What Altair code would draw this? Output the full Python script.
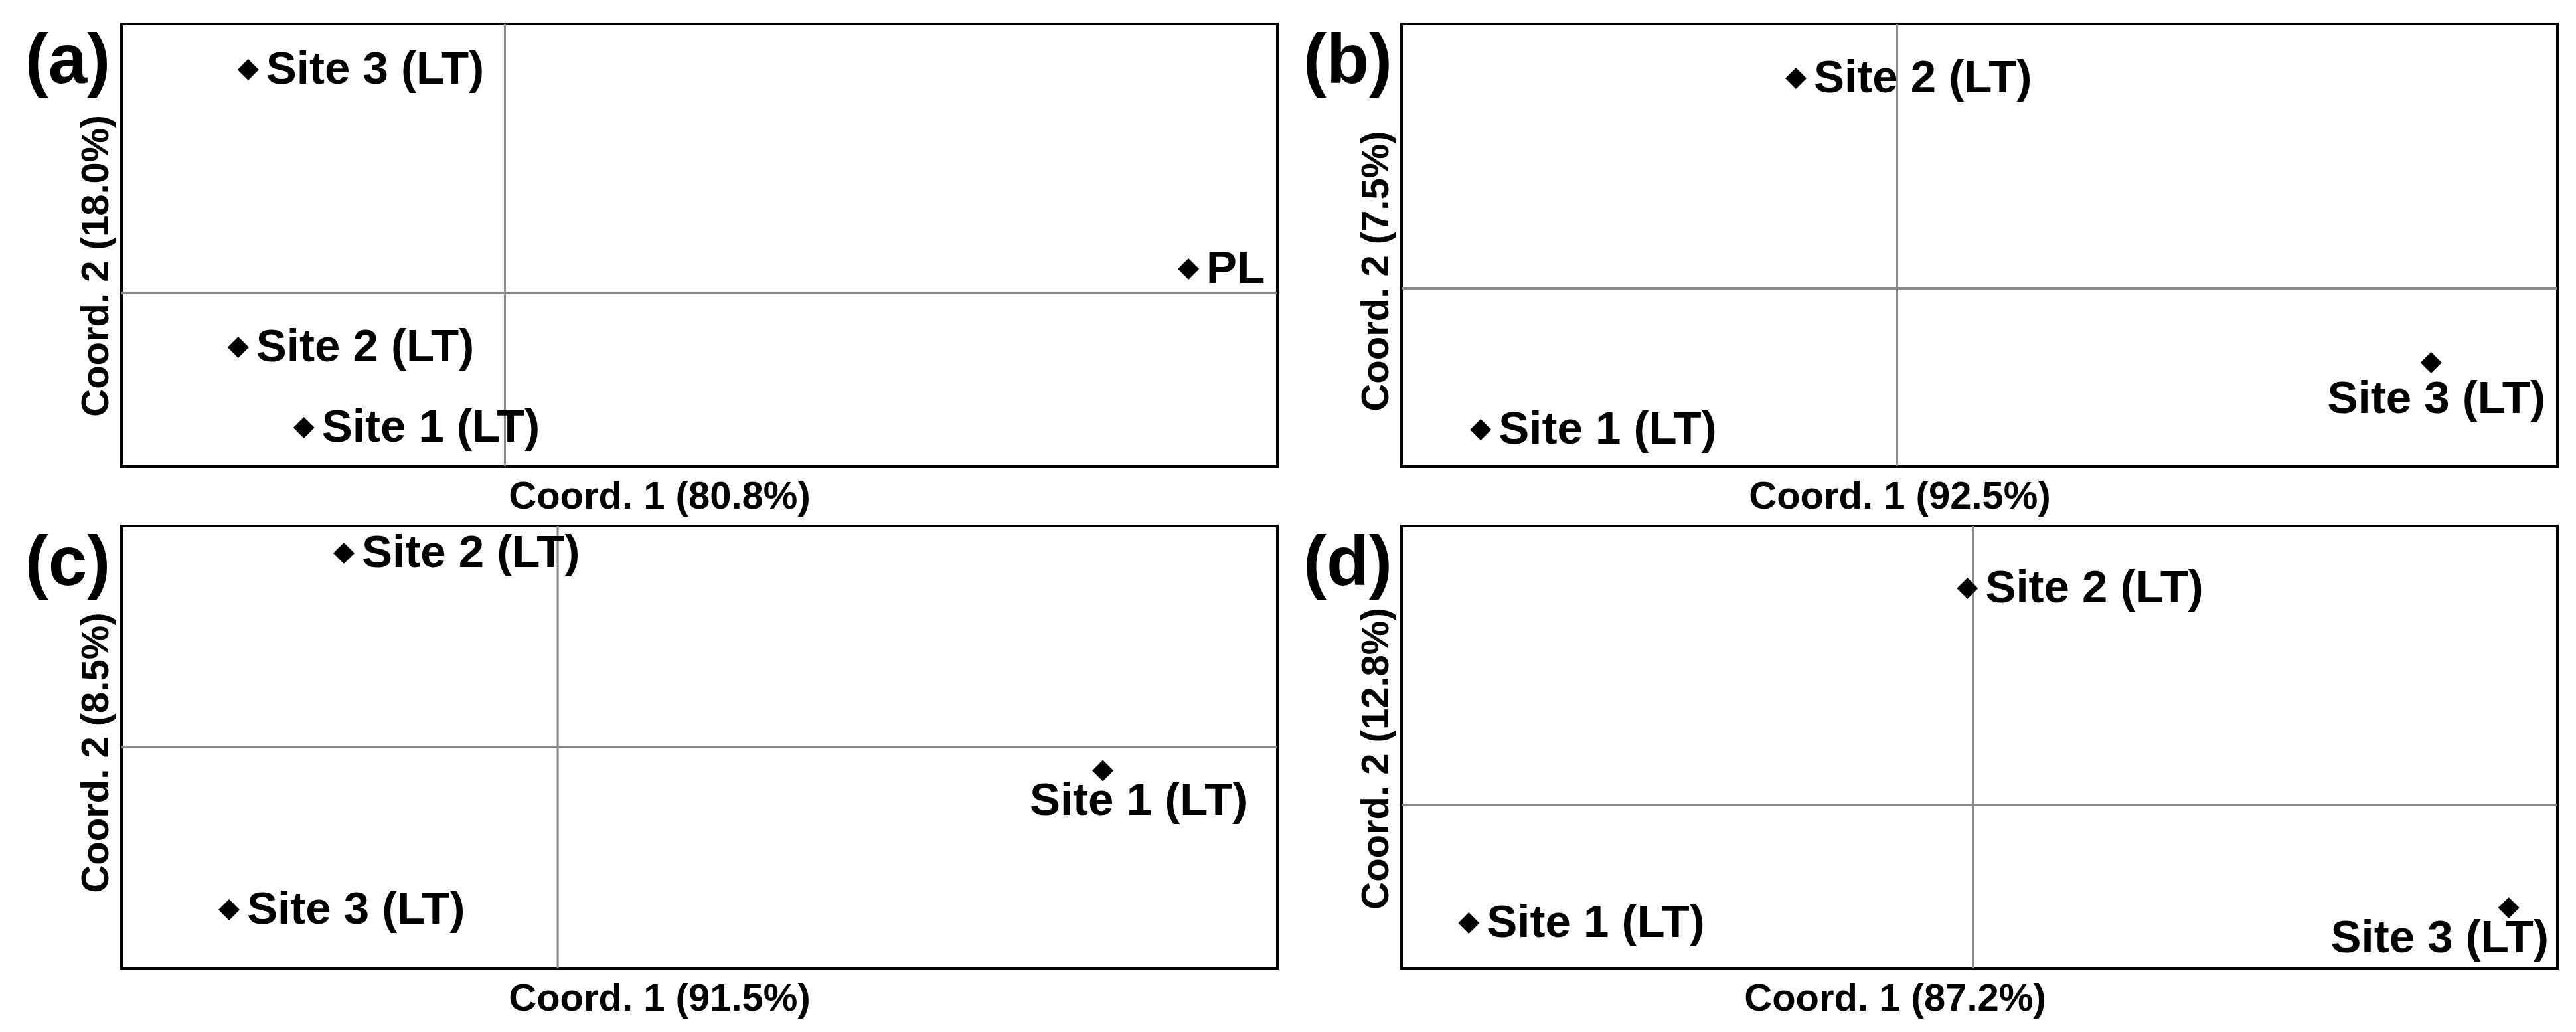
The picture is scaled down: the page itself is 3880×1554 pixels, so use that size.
import altair as alt
import pandas as pd

FONT = "Liberation Sans, Arial, sans-serif"

PANEL_LETTERS = ["(a)", "(b)", "(c)", "(d)"]
X_TITLES = ["Coord. 1 (80.8%)", "Coord. 1 (92.5%)", "Coord. 1 (91.5%)", "Coord. 1 (87.2%)"]
Y_TITLES = ["Coord. 2 (18.0%)", "Coord. 2 (7.5%)", "Coord. 2 (8.5%)", "Coord. 2 (12.8%)"]

# panel (a)
A_SITES = ["Site 3 (LT)", "PL", "Site 2 (LT)", "Site 1 (LT)"]
A_X = [-0.2220, 0.5915, -0.2306, -0.1738]
A_Y = [0.5045, 0.0541, -0.1231, -0.3048]
A_PLACE = ["right", "right", "right", "right"]

# panel (b)
B_SITES = ["Site 1 (LT)", "Site 2 (LT)", "Site 3 (LT)"]
B_X = [-0.3602, -0.0875, 0.4620]
B_Y = [-0.3198, 0.4745, -0.1682]
B_PLACE = ["right", "right", "below"]

# panel (c)
C_SITES = ["Site 1 (LT)", "Site 2 (LT)", "Site 3 (LT)"]
C_X = [0.4716, -0.1850, -0.2843]
C_Y = [-0.0525, 0.4393, -0.3673]
C_PLACE = ["below", "right", "right"]

# panel (d)
D_SITES = ["Site 1 (LT)", "Site 2 (LT)", "Site 3 (LT)"]
D_X = [-0.4360, -0.0046, 0.4637]
D_Y = [-0.2673, 0.4895, -0.2327]
D_PLACE = ["right", "right", "below"]

X_DOMAINS = [[-0.3316, 0.6684], [-0.4287, 0.5713], [-0.3774, 0.6226], [-0.4942, 0.5058]]
Y_DOMAINS = [[-0.3919, 0.6081], [-0.4024, 0.5976], [-0.4993, 0.5007], [-0.3694, 0.6306]]

# styling (label placement offsets / axis title positions)
BELOW_OFFSETS = [(0, 50), (8, 55), (54, 46), (-104, 46)]
X_TITLE_X = [810, 750, 810, 743]
Y_TITLE_Y = [364, 372, 341, 350]

W, H = 1741, 666


def panel(i, sites, xs, ys, place):
    df = pd.DataFrame({"site": sites, "x": xs, "y": ys, "place": place})
    xsc = alt.Scale(domain=X_DOMAINS[i], nice=False, zero=False)
    ysc = alt.Scale(domain=Y_DOMAINS[i], nice=False, zero=False)
    xax = alt.Axis(title=X_TITLES[i], domain=False, ticks=False, labels=False, grid=False,
                   titleFont=FONT, titleFontSize=58, titleFontWeight="bold", titleColor="black",
                   titleX=X_TITLE_X[i], titleY=63, titleBaseline="alphabetic", titleAlign="center")
    yax = alt.Axis(title=Y_TITLES[i], domain=False, ticks=False, labels=False, grid=False,
                   titleFont=FONT, titleFontSize=58, titleFontWeight="bold", titleColor="black",
                   titleX=-21, titleY=Y_TITLE_Y[i], titleBaseline="alphabetic", titleAlign="center",
                   titleAngle=270)

    base = alt.Chart(df).encode(
        x=alt.X("x:Q", scale=xsc, axis=xax),
        y=alt.Y("y:Q", scale=ysc, axis=yax),
    )
    vrule = alt.Chart(df).mark_rule(color="#888888", strokeWidth=2.5).encode(
        x=alt.datum(0, scale=xsc, axis=xax))
    hrule = alt.Chart(df).mark_rule(color="#888888", strokeWidth=3.3).encode(
        y=alt.datum(0, scale=ysc, axis=yax))
    pts = base.mark_point(shape="diamond", filled=True, size=1024, color="black", opacity=1)
    right_lbl = base.transform_filter(alt.datum.place == "right").mark_text(
        align="left", baseline="middle", dx=27, font=FONT, fontSize=69, fontWeight="bold",
        color="black").encode(text="site:N")
    bdx, bdy = BELOW_OFFSETS[i]
    below_lbl = base.transform_filter(alt.datum.place == "below").mark_text(
        align="center", baseline="middle", dx=bdx, dy=bdy, font=FONT, fontSize=69,
        fontWeight="bold", color="black").encode(text="site:N")
    letter = alt.Chart(pd.DataFrame({"t": [PANEL_LETTERS[i]]})).mark_text(
        align="center", baseline="middle", font=FONT, fontSize=105, fontWeight="bold",
        color="black").encode(text="t:N", x=alt.value(-81), y=alt.value(57))
    layers = [vrule, hrule, pts, right_lbl]
    if "below" in place:
        layers.append(below_lbl)
    layers.append(letter)
    return alt.layer(*layers).properties(width=W, height=H)


pa = panel(0, A_SITES, A_X, A_Y, A_PLACE)
pb = panel(1, B_SITES, B_X, B_Y, B_PLACE)
pc = panel(2, C_SITES, C_X, C_Y, C_PLACE)
pd_ = panel(3, D_SITES, D_X, D_Y, D_PLACE)

chart = alt.concat(pa, pb, pc, pd_, columns=2,
                   spacing=alt.RowColnumber(row=90, column=187),
                   bounds="flush").properties(
    padding={"left": 27, "top": 24, "right": 5, "bottom": 5},
    background="white",
).configure_view(stroke="black", strokeWidth=4, fill="white")

chart.save("out.html", embed_options={"renderer": "svg", "actions": False})
